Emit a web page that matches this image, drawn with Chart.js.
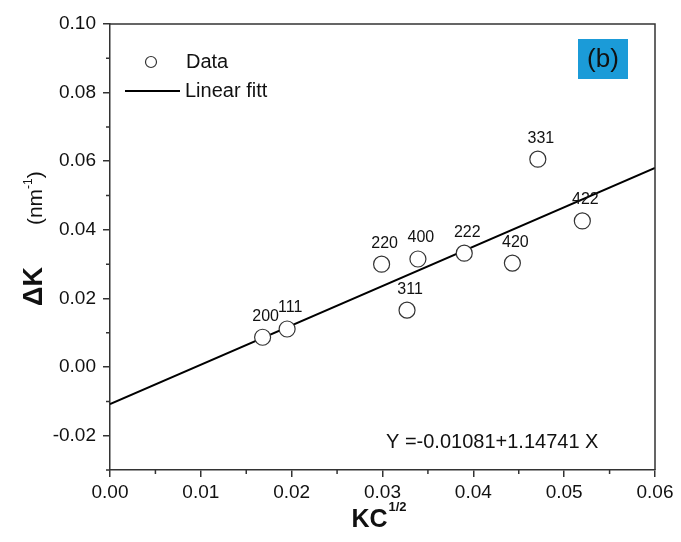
<!DOCTYPE html>
<html><head><meta charset="utf-8">
<script src="https://cdn.jsdelivr.net/npm/chart.js@4.4.1/dist/chart.umd.min.js"></script>
<style>html,body{margin:0;padding:0;background:#fff;}#wrap{width:681px;height:542px;position:relative}</style>
</head><body><div id="wrap"><canvas id="c" width="681" height="542"></canvas></div>
<script>
const hklLabels = ['200','111','220','311','400','222','420','331','422'];
const kcValues  = [0.0168,0.0195,0.0299,0.0327,0.0339,0.0390,0.0443,0.0471,0.0520];
const dkValues  = [0.0087,0.0111,0.0300,0.0166,0.0315,0.0332,0.0303,0.0606,0.0426];
const fitX = [0, 0.06];
const fitY = [-0.01081, 0.05803];
const xTickValues = [0,0.01,0.02,0.03,0.04,0.05,0.06];
const yTickValues = [-0.02,0,0.02,0.04,0.06,0.08,0.10];
const seriesNames = ['Data','Linear fitt'];
const equationText = 'Y =-0.01081+1.14741 X';
const panelTag = '(b)';

const FONT = '"Liberation Sans", Arial, sans-serif';
const AXC = '#333';

const overlay = {
  id:'overlay',
  afterDraw(chart){
    const ctx = chart.ctx, a = chart.chartArea;
    const xs = chart.scales.x, ys = chart.scales.y;
    ctx.save();
    ctx.strokeStyle = AXC; ctx.lineWidth = 1.5;
    ctx.beginPath();
    ctx.moveTo(a.left, a.top); ctx.lineTo(a.right, a.top); ctx.lineTo(a.right, a.bottom);
    ctx.stroke();
    ctx.beginPath();
    for (let i=0;i<xTickValues.length-1;i++){
      const px = xs.getPixelForValue((xTickValues[i]+xTickValues[i+1])/2);
      ctx.moveTo(px, a.bottom); ctx.lineTo(px, a.bottom+4);
    }
    const yMinor = [ys.min];
    for (let i=0;i<yTickValues.length-1;i++) yMinor.push((yTickValues[i]+yTickValues[i+1])/2);
    yMinor.forEach(v=>{const py = ys.getPixelForValue(v); ctx.moveTo(a.left, py); ctx.lineTo(a.left-4, py);});
    ctx.stroke();
    const meta = chart.getDatasetMeta(0);
    ctx.fillStyle = '#111'; ctx.font = '16px '+FONT; ctx.textAlign='center'; ctx.textBaseline='middle';
    meta.data.forEach((pt,i)=>{ ctx.fillText(hklLabels[i], pt.x+3, pt.y-21); });
    ctx.strokeStyle = '#333'; ctx.lineWidth = 1.2;
    ctx.beginPath(); ctx.arc(151, 62, 5.5, 0, Math.PI*2); ctx.stroke();
    ctx.strokeStyle = '#000'; ctx.lineWidth = 2;
    ctx.beginPath(); ctx.moveTo(125, 91); ctx.lineTo(180, 91); ctx.stroke();
    ctx.font = '20px '+FONT; ctx.textAlign='left'; ctx.fillStyle='#111';
    ctx.fillText(seriesNames[0], 186, 62);
    ctx.fillText(seriesNames[1], 185, 91);
    ctx.font = '20px '+FONT;
    ctx.fillText(equationText, 386, 442);
    ctx.fillStyle = '#1b9bd8'; ctx.fillRect(578, 39, 50, 40);
    ctx.fillStyle = '#111'; ctx.font = '26px '+FONT; ctx.textAlign='center';
    ctx.fillText(panelTag, 603, 60);
    ctx.textAlign='left'; ctx.textBaseline='alphabetic';
    ctx.font = 'bold 25px '+FONT;
    const kw = ctx.measureText('KC').width;
    ctx.font = 'bold 13px '+FONT;
    const sw = ctx.measureText('1/2').width;
    let sx = (a.left+a.right)/2 - 4 - (kw+sw)/2;
    ctx.font = 'bold 25px '+FONT; ctx.fillText('KC', sx, 527);
    ctx.font = 'bold 13px '+FONT; ctx.fillText('1/2', sx+kw+1, 511);
    ctx.translate(42, 306); ctx.rotate(-Math.PI/2);
    ctx.font = 'bold 27px '+FONT; ctx.fillText('ΔK', 0, 0);
    let w = ctx.measureText('ΔK').width + 42;
    ctx.font = '21px '+FONT; ctx.fillText('(nm', w, 0);
    w += ctx.measureText('(nm').width;
    ctx.font = '12px '+FONT; ctx.fillText('-1', w, -10);
    w += ctx.measureText('-1').width;
    ctx.font = '21px '+FONT; ctx.fillText(')', w, 0);
    ctx.restore();
  }
};

new Chart(document.getElementById('c'), {
  type:'scatter',
  data:{
    datasets:[
      {label:seriesNames[0], data:kcValues.map((x,i)=>({x, y:dkValues[i]})),
       pointStyle:'circle', pointRadius:8, pointHoverRadius:8, borderWidth:1.2,
       borderColor:'#333', backgroundColor:'#fff', order:0},
      {label:seriesNames[1], type:'line', data:fitX.map((x,i)=>({x, y:fitY[i]})),
       showLine:true, borderColor:'#000', borderWidth:2, pointRadius:0, fill:false, order:1}
    ]
  },
  options:{
    responsive:false, animation:false, devicePixelRatio:1,
    layout:{padding:{top:24, right:26, left:0, bottom:0}},
    plugins:{legend:{display:false}, tooltip:{enabled:false}},
    scales:{
      x:{type:'linear', min:0, max:0.06,
         afterBuildTicks(s){ s.ticks = xTickValues.map(v=>({value:v})); },
         afterFit(s){ s.height = 72; },
         ticks:{callback:v=>v.toFixed(2), font:{family:FONT, size:19}, color:'#111', padding:4, maxRotation:0},
         grid:{display:true, drawOnChartArea:false, drawTicks:true, tickLength:7, color:AXC, lineWidth:1.5},
         border:{display:true, color:AXC, width:1.5}},
      y:{type:'linear', min:-0.03, max:0.10,
         afterBuildTicks(s){ s.ticks = yTickValues.map(v=>({value:v})); },
         afterFit(s){ s.width = 110; },
         ticks:{callback:v=>v.toFixed(2), font:{family:FONT, size:19}, color:'#111', padding:7},
         grid:{display:true, drawOnChartArea:false, drawTicks:true, tickLength:7, color:AXC, lineWidth:1.5},
         border:{display:true, color:AXC, width:1.5}}
    }
  },
  plugins:[overlay]
});
</script></body></html>
